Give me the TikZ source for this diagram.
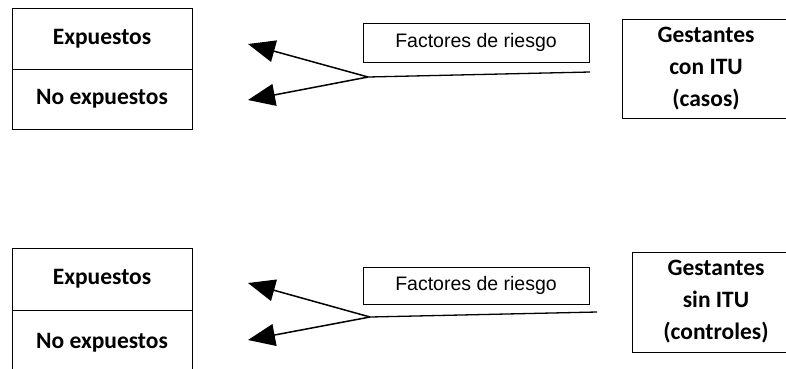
\documentclass[tikz,border=0pt]{standalone}
\usepackage{fontspec}
\setmainfont{Carlito}
\newfontfamily\arialfont{Liberation Sans}
\usetikzlibrary{arrows.meta}
\tikzset{
  cellbox/.style={draw, line width=1pt, inner sep=0pt, minimum width=180pt, font=\fontsize{23.5}{28}\selectfont\bfseries},
  factbox/.style={draw, line width=1pt, inner sep=0pt, minimum width=226pt, font=\arialfont\fontsize{19.5}{22}\selectfont},
  groupbox/.style={draw, line width=1pt, inner sep=0pt, minimum width=168pt, minimum height=100pt, align=center, font=\fontsize{23.5}{32}\selectfont\bfseries},
  connline/.style={line width=1.3pt},
  arr/.style={line width=1.5pt, -{Triangle[length=27pt,width=22pt]}}
}
\begin{document}
\begin{tikzpicture}[x=1pt,y=-1pt]
\clip (0,0) rectangle (786,368);
\fill[white] (0,0) rectangle (786,368);
% top group
\node[cellbox, minimum height=61pt] (exp1) at (102,38.5) {Expuestos};
\node[cellbox, minimum height=60pt] (noexp1) at (102,99) {No expuestos};
\node[factbox, minimum height=39pt] (fact1) at (476,42.5) {Factores de riesgo};
\node[groupbox, minimum height=99pt] (gest1) at (706,68.5) {Gestantes\\con ITU\\(casos)};
\coordinate (apex1) at (368,77);
\coordinate (end1) at (590,72);
\coordinate (tipa1) at (248,44);
\coordinate (tipb1) at (248,100);
\draw[connline] (apex1) -- (end1);
\draw[arr] (apex1) -- (tipa1);
\draw[arr] (apex1) -- (tipb1);
% bottom group
\node[cellbox, minimum height=62pt] (exp2) at (102,279) {Expuestos};
\node[cellbox, minimum height=65pt] (noexp2) at (102,342.5) {No expuestos};
\node[factbox, minimum height=37pt] (fact2) at (476,285.5) {Factores de riesgo};
\node[groupbox] (gest2) at (716,302) {Gestantes\\sin ITU\\(controles)};
\coordinate (apex2) at (370,317);
\coordinate (end2) at (597,312);
\coordinate (tipa2) at (248,283);
\coordinate (tipb2) at (248,340);
\draw[connline] (apex2) -- (end2);
\draw[arr] (apex2) -- (tipa2);
\draw[arr] (apex2) -- (tipb2);
\end{tikzpicture}
\end{document}
